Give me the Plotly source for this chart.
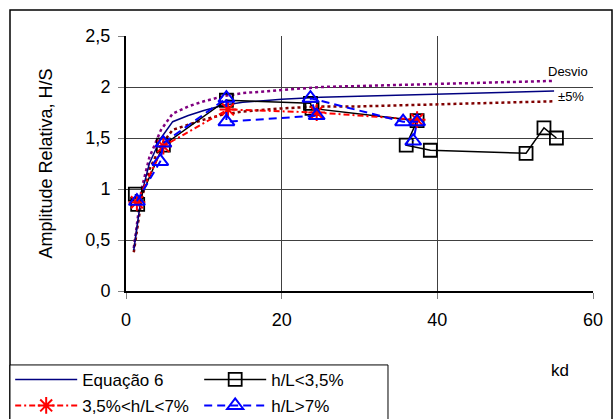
import plotly.graph_objects as go

# Equação 6 curve and ±5% deviation bands
eq_kd = [1, 2, 3, 4.5, 6, 8, 10, 12.5, 15, 20, 25, 30, 35, 40, 45, 50, 55]
eq_hs = [0.40, 0.95, 1.25, 1.50, 1.66, 1.72, 1.77, 1.82, 1.85, 1.88, 1.90, 1.91, 1.92, 1.93, 1.94, 1.95, 1.96]
up_hs = [0.42, 1.00, 1.31, 1.58, 1.74, 1.81, 1.86, 1.91, 1.94, 1.97, 2.00, 2.01, 2.02, 2.03, 2.04, 2.05, 2.06]
lo_hs = [0.38, 0.90, 1.19, 1.43, 1.58, 1.63, 1.68, 1.73, 1.76, 1.79, 1.81, 1.81, 1.82, 1.83, 1.84, 1.85, 1.86]

# h/L < 3,5%
s1_kd = [1.2, 1.5, 4.8, 12.9, 23.7, 23.9, 37.4, 36.0, 39.1, 51.4, 53.7, 55.3]
s1_hs = [0.95, 0.85, 1.43, 1.87, 1.84, 1.79, 1.67, 1.43, 1.38, 1.35, 1.60, 1.50]

# 3,5% < h/L < 7%
s2_kd = [1.4, 4.8, 13.1, 24.5, 37.4]
s2_hs = [0.87, 1.42, 1.78, 1.75, 1.68]

# h/L > 7%
s3_kd = [1.4, 4.4, 4.8, 12.9, 12.9, 24.5, 23.7, 35.6, 37.4, 36.9]
s3_hs = [0.88, 1.27, 1.45, 1.89, 1.66, 1.72, 1.89, 1.66, 1.66, 1.47]

y_ticks = [0, 0.5, 1, 1.5, 2, 2.5]
y_labels = ["0", "0,5", "1", "1,5", "2", "2,5"]
x_ticks = [0, 20, 40, 60]

legend_names = ["Equação 6", "h/L<3,5%", "3,5%<h/L<7%", "h/L>7%"]

FONT = "Liberation Sans"

fig = go.Figure()

fig.add_trace(go.Scatter(x=eq_kd, y=up_hs, mode="lines", showlegend=False,
                         line=dict(color="#800080", width=2.5, dash="dot")))
fig.add_trace(go.Scatter(x=eq_kd, y=lo_hs, mode="lines", showlegend=False,
                         line=dict(color="#800000", width=2.5, dash="dot")))
fig.add_trace(go.Scatter(x=eq_kd, y=eq_hs, mode="lines", name=legend_names[0],
                         legend="legend", line=dict(color="#000080", width=1.5)))
fig.add_trace(go.Scatter(x=s1_kd, y=s1_hs, mode="lines+markers", name=legend_names[1],
                         legend="legend",
                         line=dict(color="black", width=1.5),
                         marker=dict(symbol="square-open", size=13, color="black",
                                     line=dict(width=1.8, color="black"))))
fig.add_trace(go.Scatter(x=s2_kd, y=s2_hs, mode="lines+markers", name=legend_names[2],
                         legend="legend2",
                         line=dict(color="#ff0000", width=2, dash="6px,3px,2px,3px"),
                         marker=dict(symbol="asterisk-open", size=14, color="#ff0000",
                                     line=dict(width=2, color="#ff0000"))))
fig.add_trace(go.Scatter(x=s3_kd, y=s3_hs, mode="lines+markers", name=legend_names[3],
                         legend="legend2",
                         line=dict(color="#0000ff", width=2, dash="8px,5px"),
                         marker=dict(symbol="triangle-up-open", size=14, color="#0000ff",
                                     line=dict(width=2, color="#0000ff"))))

leg_common = dict(orientation="h", x=-0.248, xanchor="left", yanchor="top",
                  borderwidth=0, bgcolor="rgba(0,0,0,0)",
                  entrywidth=112, entrywidthmode="pixels", tracegroupgap=0,
                  font=dict(size=17), itemwidth=62)

fig.update_layout(
    width=614, height=419,
    margin=dict(l=126, r=21, t=36, b=128, autoexpand=False),
    paper_bgcolor="white", plot_bgcolor="white",
    font=dict(family=FONT, size=17, color="black"),
    xaxis=dict(range=[0, 60], tickvals=x_ticks, showgrid=True, gridcolor="#404040",
               gridwidth=1, showline=True, linecolor="black", linewidth=2,
               ticks="outside", ticklen=6, tickcolor="#808080", zeroline=False,
               tickfont=dict(size=18), ticklabelstandoff=5),
    yaxis=dict(range=[0, 2.5], tickvals=y_ticks, ticktext=y_labels, showgrid=True,
               gridcolor="#404040", gridwidth=1, showline=True, linecolor="black",
               linewidth=2, ticks="outside", ticklen=6, tickcolor="#808080",
               zeroline=False, tickfont=dict(size=18), ticklabelstandoff=4,
               title=dict(text="Amplitude Relativa, H/S", font=dict(size=18), standoff=28)),
    legend=dict(y=-0.278, **leg_common),
    legend2=dict(y=-0.380, **leg_common),
    shapes=[
        dict(type="rect", xref="paper", yref="paper", x0=-0.2484, x1=1.0407,
             y0=-0.7, y1=1.102, line=dict(color="black", width=1.5),
             fillcolor="rgba(0,0,0,0)", layer="below"),
        dict(type="rect", xref="paper", yref="paper", x0=-0.2484, x1=0.561,
             y0=-0.6, y1=-0.290, line=dict(color="black", width=1),
             fillcolor="white", layer="below"),
    ],
    annotations=[
        dict(text="kd", xref="paper", yref="paper", x=0.929, y=-0.31, showarrow=False,
             xanchor="center", yanchor="middle", font=dict(size=17)),
        dict(text="Desvio", xref="paper", yref="paper", x=0.946, y=0.862, showarrow=False,
             xanchor="center", yanchor="middle", font=dict(size=13)),
        dict(text="±5%", xref="paper", yref="paper", x=0.952, y=0.762, showarrow=False,
             xanchor="center", yanchor="middle", font=dict(size=13)),
    ],
)

fig.write_html("out.html")
